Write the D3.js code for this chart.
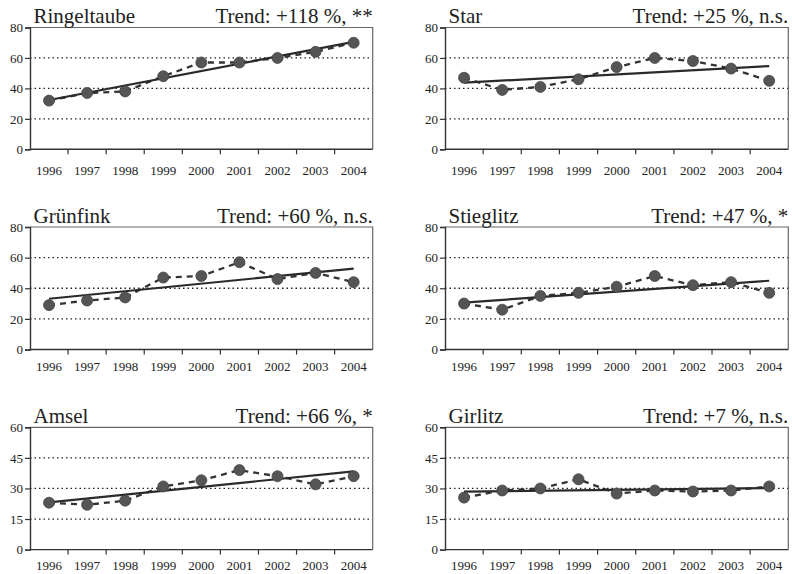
<!DOCTYPE html>
<html>
<head>
<meta charset="utf-8">
<script src="https://cdn.jsdelivr.net/npm/d3@7/dist/d3.min.js"></script>
<style>
  html, body { margin: 0; padding: 0; background: #fff; }
  svg { display: block; }
</style>
</head>
<body>
<svg id="chart" width="792" height="574"></svg>
<script>
const years = ["1996","1997","1998","1999","2000","2001","2002","2003","2004"];

const species = ["Ringeltaube","Star","Grünfink","Stieglitz","Amsel","Girlitz"];
const trendLabels = ["Trend: +118 %, **","Trend: +25 %, n.s.","Trend: +60 %, n.s.","Trend: +47 %, *","Trend: +66 %, *","Trend: +7 %, n.s."];

const ringeltaube = [32, 37, 38, 48, 57, 57, 60, 64, 70];
const star        = [47, 39, 41, 46, 54, 60, 58, 53, 45];
const gruenfink   = [29, 32, 34, 47, 48, 57, 46, 50, 44];
const stieglitz   = [30, 26, 35, 37, 41, 48, 42, 44, 37];
const amsel       = [23, 22, 24, 31, 34, 39, 36, 32, 36];
const girlitz     = [25.5, 29, 30, 34.5, 27.5, 29, 28.5, 29, 31];

const yTicksA = [0, 20, 40, 60, 80];
const yTicksB = [0, 15, 30, 45, 60];

const seriesList = [ringeltaube, star, gruenfink, stieglitz, amsel, girlitz];
const tickList = [yTicksA, yTicksA, yTicksA, yTicksA, yTicksB, yTicksB];

// layout (positions only)
const FONT = "'Liberation Serif', 'Times New Roman', Times, 'DejaVu Serif', serif";
const colX = [[30, 372.7], [445, 788.3]];
const rowY = [[27.5, 149.3], [227, 349.5], [427.3, 549.6]];
const labelOffset = [25.5, 21, 20.5];

const svg = d3.select("#chart").attr("font-family", FONT);

function linreg(vals) {
  const n = vals.length;
  const xs = d3.range(n);
  const mx = d3.mean(xs), my = d3.mean(vals);
  let sxy = 0, sxx = 0;
  xs.forEach((x, i) => { sxy += (x - mx) * (vals[i] - my); sxx += (x - mx) * (x - mx); });
  const b = sxy / sxx, a = my - b * mx;
  return [a, a + b * (n - 1)];
}

species.forEach((name, idx) => {
  const col = idx % 2, row = Math.floor(idx / 2);
  const [x0, x1] = colX[col];
  const [yTop, yBot] = rowY[row];
  const vals = seriesList[idx];
  const ticks = tickList[idx];

  const x = d3.scaleBand().domain(years).range([x0, x1]).paddingInner(0).paddingOuter(0);
  const y = d3.scaleLinear().domain([0, d3.max(ticks)]).range([yBot, yTop]);
  const g = svg.append("g");

  // gridlines (dotted)
  g.selectAll("line.grid").data(ticks.slice(1, -1)).join("line")
    .attr("x1", x0).attr("x2", x1)
    .attr("y1", d => y(d)).attr("y2", d => y(d))
    .attr("stroke", "#222").attr("stroke-width", 1.3)
    .attr("stroke-dasharray", "1.5,3");

  // frame top & right
  g.append("path")
    .attr("d", `M${x0},${y(d3.max(ticks))}H${x1}V${yBot}`)
    .attr("fill", "none").attr("stroke", "#666").attr("stroke-width", 1.2);

  // y axis
  const yAxis = d3.axisLeft(y).tickValues(ticks).tickSize(5).tickPadding(2).tickFormat(d3.format("d"));
  const ya = g.append("g").attr("transform", `translate(${x0},0)`).call(yAxis);
  ya.attr("font-family", FONT).attr("font-size", 13);
  ya.select(".domain").attr("stroke", "#333").attr("stroke-width", 1.4);
  ya.selectAll(".tick line").attr("stroke", "#333").attr("stroke-width", 1.2);
  ya.selectAll(".tick text").attr("fill", "#222");

  // x axis: ticks at band boundaries
  const xa = g.append("g").attr("transform", `translate(0,${yBot})`);
  xa.append("line").attr("x1", x0).attr("x2", x1).attr("y1", 0).attr("y2", 0)
    .attr("stroke", "#333").attr("stroke-width", 1.4);
  xa.selectAll("line.xt").data(years.slice(1)).join("line")
    .attr("x1", d => x(d)).attr("x2", d => x(d))
    .attr("y1", 0).attr("y2", 5)
    .attr("stroke", "#333").attr("stroke-width", 1.2);
  xa.selectAll("text").data(years).join("text")
    .attr("x", d => x(d) + x.bandwidth() / 2)
    .attr("y", labelOffset[row])
    .attr("text-anchor", "middle")
    .attr("font-size", 13)
    .attr("fill", "#222")
    .text(d => d);

  // dashed line
  const line = d3.line().x((d, i) => x(years[i]) + x.bandwidth() / 2).y(d => y(d));
  g.append("path").datum(vals).attr("d", line)
    .attr("fill", "none").attr("stroke", "#333").attr("stroke-width", 2.3)
    .attr("stroke-dasharray", "6,5");

  // trend line (linear regression of the values)
  const [t0, t1] = linreg(vals);
  g.append("line")
    .attr("x1", x(years[0]) + x.bandwidth() / 2).attr("y1", y(t0))
    .attr("x2", x(years[years.length - 1]) + x.bandwidth() / 2).attr("y2", y(t1))
    .attr("stroke", "#2a2a2a").attr("stroke-width", 2.2);

  // points
  g.selectAll("circle").data(vals).join("circle")
    .attr("cx", (d, i) => x(years[i]) + x.bandwidth() / 2)
    .attr("cy", d => y(d))
    .attr("r", 5.5)
    .attr("fill", "#555").attr("stroke", "#444").attr("stroke-width", 0.8);

  // titles
  g.append("text").attr("x", x0 + 3.5).attr("y", yTop - 4.5)
    .attr("font-size", 21).attr("fill", "#222").text(name);
  g.append("text").attr("x", x1).attr("y", yTop - 4.5)
    .attr("text-anchor", "end")
    .attr("font-size", 21).attr("fill", "#222").text(trendLabels[idx]);
});
</script>
</body>
</html>
